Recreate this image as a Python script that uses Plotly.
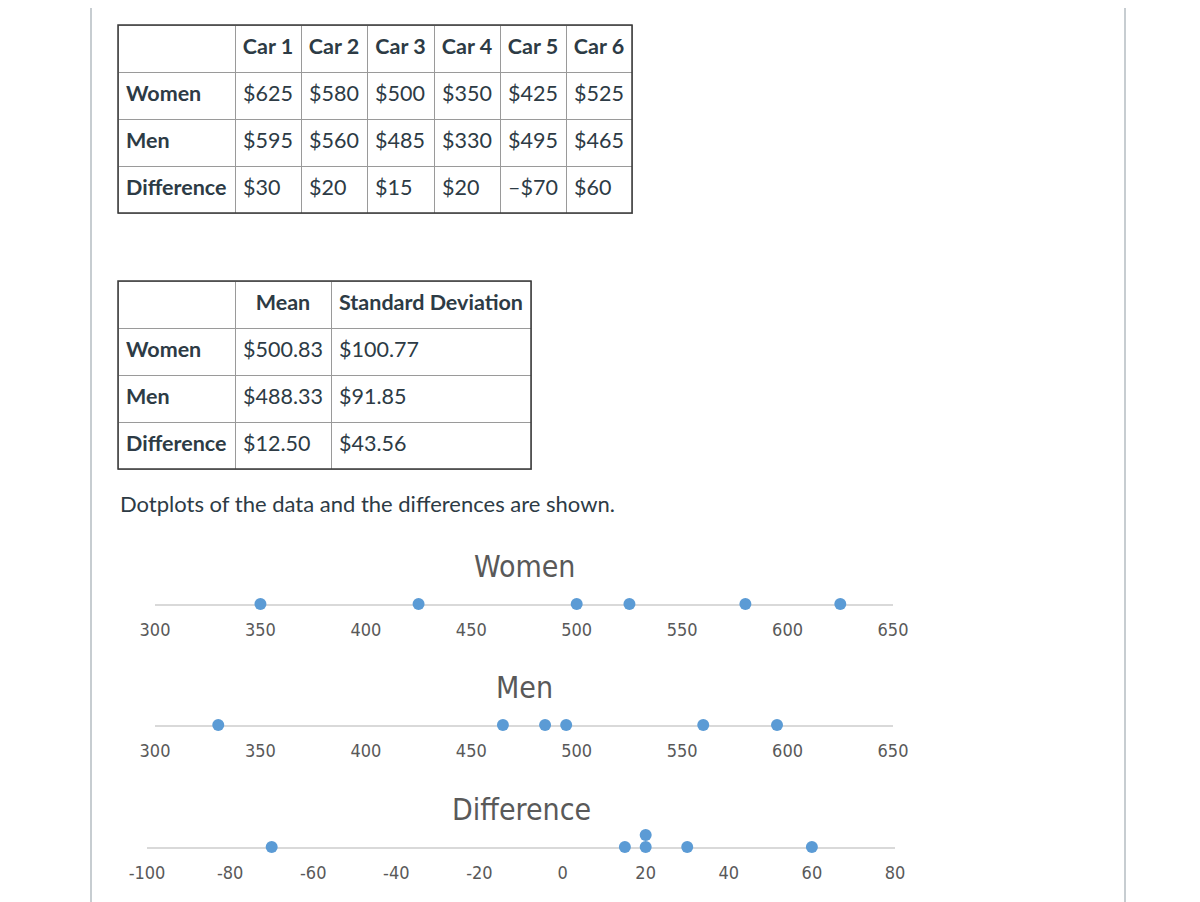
import plotly.graph_objects as go

# ---------------- data ----------------
cars = ["Car 1", "Car 2", "Car 3", "Car 4", "Car 5", "Car 6"]
row_labels = ["Women", "Men", "Difference"]
women = [625, 580, 500, 350, 425, 525]
men = [595, 560, 485, 330, 495, 465]
difference = [30, 20, 15, 20, -70, 60]

stat_headers = ["Mean", "Standard Deviation"]
means = ["$500.83", "$488.33", "$12.50"]
std_devs = ["$100.77", "$91.85", "$43.56"]

price_ticks = [300, 350, 400, 450, 500, 550, 600, 650]
diff_ticks = [-100, -80, -60, -40, -20, 0, 20, 40, 60, 80]

caption = "Dotplots of the data and the differences are shown."
plot_titles = ["Women", "Men", "Difference"]

# ---------------- helpers ----------------
W, H = 1200, 902
OFF = 8  # page body margin in the browser


def px(x):
    return (x - OFF) / W


def py(y):
    return 1 - (y - OFF) / H


def money(v):
    return ("–$%d" % abs(v)) if v < 0 else ("$%d" % v)


def nb(s):
    return s.replace(" ", "\u00a0")


def plain(s):
    return "<span>%s</span>" % s


def stack_levels(vals):
    seen = {}
    out = []
    for v in vals:
        out.append(seen.get(v, 0))
        seen[v] = seen.get(v, 0) + 1
    return out


TEXT = "#2d3b45"
TABLE_FONT = "Lato, 'Open Sans', sans-serif"
CHART_FONT = "'DejaVu Sans Condensed', 'Liberation Sans Narrow', sans-serif"
GRAY = "#595959"
DOT = "#5b9bd5"
INNER_LINE = "#9a9a9a"
ROW_H = 47
TSIZE = 21.5

fig = go.Figure()

# ---------------- table 1 ----------------
t1 = dict(x0=118, x1=632, y0=25)
t1_cols = [117, 66, 66, 67, 66, 66, 66]
fig.add_trace(go.Table(
    domain=dict(x=[px(t1["x0"]), px(t1["x1"])], y=[py(t1["y0"] + ROW_H * 4 + 8), py(t1["y0"])]),
    columnwidth=t1_cols,
    header=dict(
        values=[""] + ["<b>%s</b>" % nb(c) for c in cars],
        height=ROW_H,
        align="center",
        line=dict(color=INNER_LINE, width=1),
        fill=dict(color="white"),
        font=dict(family=TABLE_FONT, size=TSIZE, color=TEXT),
    ),
    cells=dict(
        values=[["<b>%s</b>" % r for r in row_labels]] +
               [[plain(money(women[i])), plain(money(men[i])), plain(money(difference[i]))]
                for i in range(len(cars))],
        height=ROW_H,
        align="left",
        line=dict(color=INNER_LINE, width=1),
        fill=dict(color="white"),
        font=dict(family=TABLE_FONT, size=TSIZE, color=TEXT),
    ),
))

# ---------------- table 2 ----------------
t2 = dict(x0=118, x1=531, y0=281)
t2_cols = [117, 96, 200]
fig.add_trace(go.Table(
    domain=dict(x=[px(t2["x0"]), px(t2["x1"])], y=[py(t2["y0"] + ROW_H * 4 + 8), py(t2["y0"])]),
    columnwidth=t2_cols,
    header=dict(
        values=[""] + ["<b>%s</b>" % nb(s) for s in stat_headers],
        height=ROW_H,
        align="center",
        line=dict(color=INNER_LINE, width=1),
        fill=dict(color="white"),
        font=dict(family=TABLE_FONT, size=TSIZE, color=TEXT),
    ),
    cells=dict(
        values=[["<b>%s</b>" % r for r in row_labels], [plain(m) for m in means], [plain(s) for s in std_devs]],
        height=ROW_H,
        align="left",
        line=dict(color=INNER_LINE, width=1),
        fill=dict(color="white"),
        font=dict(family=TABLE_FONT, size=TSIZE, color=TEXT),
    ),
))

shapes = []
for t in (t1, t2):
    shapes.append(dict(type="rect", xref="paper", yref="paper",
                       x0=px(t["x0"]), x1=px(t["x1"]), y0=py(t["y0"] + ROW_H * 4), y1=py(t["y0"]),
                       line=dict(color="#3a3a3a", width=1.5), fillcolor="rgba(0,0,0,0)", layer="above"))
for xv in (91, 1125):
    shapes.append(dict(type="line", xref="paper", yref="paper", x0=px(xv), x1=px(xv), y0=0, y1=1,
                       line=dict(color="#c7cdd1", width=2)))

# ---------------- dotplots ----------------
series = [women, men, difference]
line_y = [604, 725, 847]
x_dom = [(155, 893), (155, 893), (147, 895)]
ranges = [[300, 650], [300, 650], [-100, 80]]
ticks = [price_ticks, price_ticks, diff_ticks]
STEP = 12  # px per stack level

annotations = [dict(xref="paper", yref="paper", x=px(118), y=py(503), xanchor="left", yanchor="middle",
                    text=caption, showarrow=False, font=dict(family=TABLE_FONT, size=22, color=TEXT))]

for i, vals in enumerate(series):
    n = "" if i == 0 else str(i + 1)
    lv = stack_levels(vals)
    fig.add_trace(go.Scatter(x=vals, y=lv, mode="markers", xaxis="x" + n, yaxis="y" + n,
                             marker=dict(size=12, color=DOT), cliponaxis=False, showlegend=False,
                             hoverinfo="x"))
    fig.update_layout(**{
        "xaxis" + n: dict(domain=[px(x_dom[i][0]), px(x_dom[i][1])], range=ranges[i], anchor="y" + n,
                          showline=True, linecolor="#d9d9d9", linewidth=2, showgrid=False, zeroline=False,
                          tickmode="array", tickvals=ticks[i], ticktext=[str(t) for t in ticks[i]],
                          ticks="", ticklabelstandoff=8, automargin=False,
                          tickfont=dict(family=CHART_FONT, size=18, color=GRAY), layer="below traces",
                          fixedrange=True),
        "yaxis" + n: dict(domain=[py(line_y[i]), py(line_y[i] - 2 * STEP)], range=[0, 2], anchor="x" + n,
                          visible=False, fixedrange=True, automargin=False),
    })
    annotations.append(dict(xref="x%s domain" % n, yref="paper", x=0.5, y=py(line_y[i] - 38),
                            xanchor="center", yanchor="middle", text=plot_titles[i], showarrow=False,
                            font=dict(family=CHART_FONT, size=30, color=GRAY)))

fig.update_layout(template="none", width=W, height=H, margin=dict(l=0, r=0, t=0, b=0, pad=0, autoexpand=False),
                  paper_bgcolor="white", plot_bgcolor="white", showlegend=False,
                  shapes=shapes, annotations=annotations)

fig.write_html("out.html")
